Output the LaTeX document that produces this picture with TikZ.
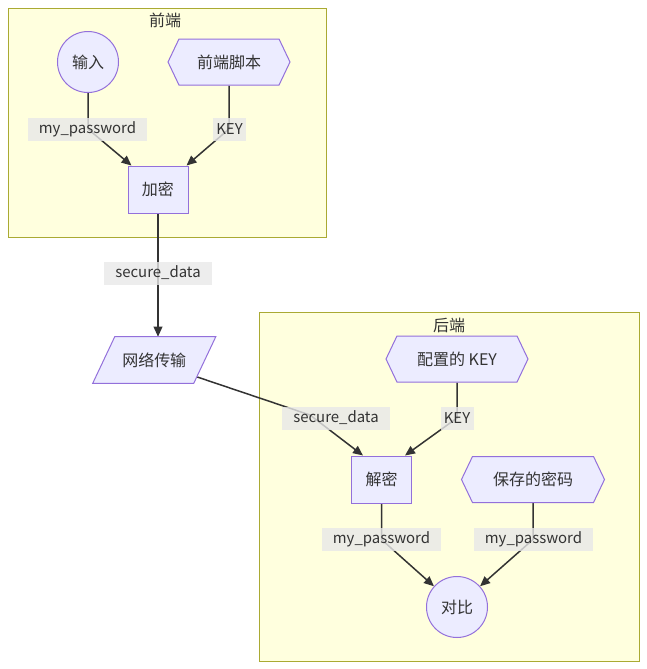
\documentclass[tikz,border=0pt]{standalone}
\usepackage{fontspec}
\setmainfont{Noto Sans CJK SC}
\usetikzlibrary{shapes.symbols,calc,arrows.meta}
\definecolor{clfill}{HTML}{FFFFDE}
\definecolor{cldraw}{HTML}{AAAA33}
\definecolor{ndfill}{HTML}{ECECFF}
\definecolor{nddraw}{HTML}{9370DB}
\definecolor{edgec}{HTML}{333333}
\definecolor{lblin}{HTML}{E8E8E8}
\definecolor{txt}{HTML}{333333}
\newcommand\pxu{0.75pt}
\pgfdeclarelayer{bg}
\pgfdeclarelayer{edges}
\pgfdeclarelayer{shp}
\pgfsetlayers{bg,edges,shp,main}
\begin{document}
\begin{tikzpicture}[x=0.75pt,y=-0.75pt,
  font=\fontsize{12}{14}\selectfont, text=txt,
  cluster/.style={draw=cldraw, fill=clfill, line width=1*\pxu, inner sep=0, anchor=north west},
  nd/.style={draw=nddraw, fill=ndfill, line width=1*\pxu, inner sep=0},
  circ/.style={nd, circle, minimum size=61*\pxu},
  box/.style={nd, rectangle, minimum width=60*\pxu, minimum height=47*\pxu},
  hexa/.style={nd, signal, signal to=west and east, signal pointer angle=129, minimum height=46*\pxu},
  lbl/.style={fill=lblin, fill opacity=0.8, text opacity=1, inner sep=0, minimum height=23*\pxu, font=\fontsize{11.2}{13}\selectfont},
  edge/.style={draw=edgec, line width=1.5*\pxu},
  arr/.style={edge, -{Triangle[length=7.5pt,width=6.5pt]}}
]
\useasboundingbox (0,0) rectangle (647,669);

\begin{pgfonlayer}{bg}
\node[cluster, minimum width=318*\pxu, minimum height=229*\pxu] (fe) at (8,8) {};
\node[cluster, minimum width=380*\pxu, minimum height=349*\pxu] (be) at (259,312) {};
\end{pgfonlayer}
\node (fet) at (165,20) {前端};
\node (bet) at (449,325) {后端};

% nodes
\node[circ] (in) at (88,62) {输入};
\node[hexa, minimum width=122*\pxu] (fs) at (229,62) {前端脚本};
\node[box] (jm) at (158,189.5) {加密};
\node[lbl, minimum width=119*\pxu] (l1) at (87.5,129) {my\_password};
\node[lbl, minimum width=33*\pxu] (l2) at (229.5,129) {KEY};
\node[lbl, minimum width=108*\pxu] (l3) at (158,273) {secure\_data};
\node[minimum width=100.5*\pxu, minimum height=46*\pxu, inner sep=0] (net) at (154.25,360) {网络传输};
\node[hexa, minimum width=142*\pxu] (ck) at (457,359) {配置的 KEY};
\node[lbl, minimum width=108*\pxu] (l5) at (336,418) {secure\_data};
\node[lbl, minimum width=33*\pxu] (l6) at (457,418) {KEY};
\node[box] (jiem) at (381.5,479.5) {解密};
\node[hexa, minimum width=143*\pxu] (bc) at (533,479.5) {保存的密码};
\node[lbl, minimum width=119*\pxu] (l7) at (381.5,539.5) {my\_password};
\node[lbl, minimum width=119*\pxu] (l8) at (533.5,539.5) {my\_password};
\node[circ] (db) at (457,607) {对比};

\begin{pgfonlayer}{shp}
\draw[nd] ($(net.north west)+(11,0)$) -- ($(net.north east)+(11,0)$) -- ($(net.south east)+(-11,0)$) -- ($(net.south west)+(-11,0)$) -- cycle;
\end{pgfonlayer}

\begin{pgfonlayer}{edges}
\draw[arr] (in.south) -- (in.south |- l1.center) -- ($(jm.north west)+(4,0)$);
\draw[arr] (fs.south) -- (fs.south |- l2.center) -- ($(jm.north east)+(-2,0)$);
\draw[arr] (jm.south) -- (jm.south |- net.north);
\draw[arr] ($(net.center)+(43,17)$) -- ($(l5.center)+(-26,-3)$) -- ($(jiem.north west)+(12,0)$);
\draw[arr] (ck.south) -- (ck.south |- l6.center) -- ($(jiem.north east)+(-7,0)$);
\draw[arr] (jiem.south) -- (jiem.south |- l7.center) -- (db.138);
\draw[arr] (bc.south) -- (bc.south |- l8.center) -- (db.42);
\end{pgfonlayer}
\end{tikzpicture}
\end{document}
